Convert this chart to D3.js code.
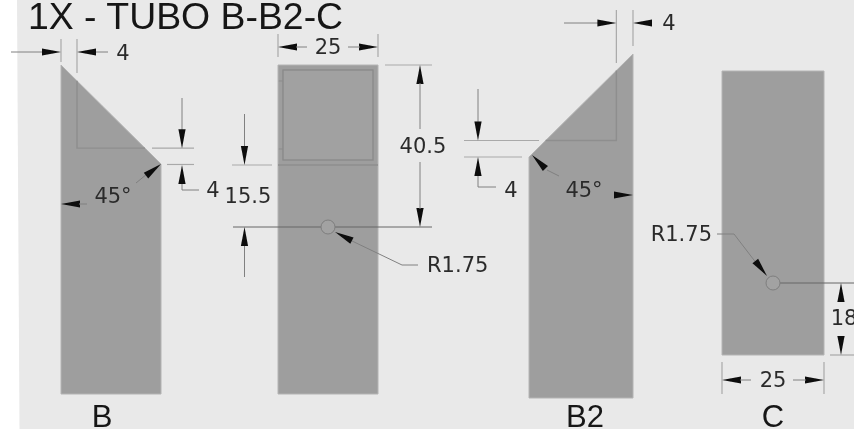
<!DOCTYPE html>
<html>
<head>
<meta charset="utf-8">
<script src="https://cdn.jsdelivr.net/npm/d3@7"></script>
<style>
html, body { margin: 0; padding: 0; background: #fff; overflow: hidden; }
text { font-family: "DejaVu Sans", sans-serif; font-size: 21px; fill: #2c2c2c; text-anchor: middle; dominant-baseline: central; }
text.big { font-family: "Liberation Sans", sans-serif; fill: #161616; dominant-baseline: auto; }
</style>
</head>
<body>
<div id="chart"></div>
<script>
// values, all in mm
const title = "1X - TUBO B-B2-C";
const viewNames = ["B", "", "B2", "C"];
const tubeWidth = [25, 25, 25, 25];
const tubeLength = [83.1, 82.25, 83.5, 71];
const cutDepth = 4;
const slotHeight = 25;
const slotInset = 1.25;
const holeFromTop = 40.5;
const holeStep = 15.5;
const holeFromEnd = 18;
const holeRadius = 1.75;
const angleLabel = "45°";

const width = 854;
const height = 429;

const svg = d3.select("#chart")
    .append("svg")
    .attr("width", width)
    .attr("height", height);

svg.append("defs").append("filter")
    .attr("id", "soft")
    .append("feGaussianBlur")
    .attr("stdDeviation", 0.5);

// sheet background does not quite start at the left edge
svg.append("path")
    .attr("d", d3.line()([[17, 0], [width, 0], [width, height], [19.5, height]]))
    .attr("fill", "#e9e9e9");

const g = svg.append("g").attr("filter", "url(#soft)");

// one pair of scales for each view, mm to pixels
const xRanges = [[61, 161], [278, 378], [529, 633], [722, 824]];
const yRanges = [[65, 394], [65, 394], [54, 398], [71, 355]];
const views = viewNames.map((name, i) => ({
    name: name,
    x: d3.scaleLinear([0, tubeWidth[i]], xRanges[i]),
    y: d3.scaleLinear([0, tubeLength[i]], yRanges[i])
}));
const [vB, vM, vB2, vC] = views;

const lineGen = d3.line();

function part(points) {
    g.append("path")
        .attr("d", lineGen(points) + "Z")
        .attr("fill", "#9e9e9e")
        .attr("stroke", "#b4b4b4")
        .attr("stroke-width", 1);
}

function seg(points, color, w) {
    g.append("path")
        .attr("d", lineGen(points))
        .attr("fill", "none")
        .attr("stroke", color)
        .attr("stroke-width", w || 1);
}
const ext = (points) => seg(points, "#a9a9a9", 1.2);
const dim = (points) => seg(points, "#808080", 1);
const inner = (points) => seg(points, "#8e8e8e", 1.4);

// long thin arrow head, tip at x,y, pointing along deg
function arrow(x, y, deg) {
    g.append("path")
        .attr("d", "M0,0L-19,-3.6L-19,3.6Z")
        .attr("transform", `translate(${x},${y}) rotate(${deg})`)
        .attr("fill", "#0c0c0c");
}

function label(s, x, y) {
    g.append("text").attr("x", x).attr("y", y).text(s);
}

function viewName(v, x) {
    g.append("text")
        .attr("class", "big")
        .attr("x", x)
        .attr("y", 427)
        .style("font-size", "31px")
        .text(v.name);
}

function hole(v, cx, cy) {
    g.append("circle")
        .attr("cx", v.x(cx))
        .attr("cy", v.y(cy))
        .attr("r", (v.y(holeRadius) - v.y(0)))
        .attr("fill", "#a2a2a2")
        .attr("stroke", "#7e7e7e")
        .attr("stroke-width", 1);
}

// ---- view B ----
{
    const v = vB, w = tubeWidth[0], L = tubeLength[0];
    part([[v.x(0), v.y(0)], [v.x(w), v.y(w)], [v.x(w), v.y(L)], [v.x(0), v.y(L)]]);
    inner([[v.x(cutDepth), v.y(cutDepth)], [v.x(cutDepth), v.y(w - cutDepth)], [v.x(w - cutDepth), v.y(w - cutDepth)]]);

    // width of the cut
    const a = v.x(0), b = v.x(cutDepth);
    ext([[a, 39], [a, 62]]);
    ext([[b, 39], [b, 73]]);
    dim([[11, 52], [a - 18, 52]]);
    arrow(a, 52, 0);
    dim([[b + 18, 52], [108, 52]]);
    arrow(b, 52, 180);
    label(cutDepth, 123, 53);

    // height of the cut
    const c = v.y(w - cutDepth), d = v.y(w);
    ext([[152, c], [194, c]]);
    ext([[167, d + 0.5], [194, d + 0.5]]);
    dim([[182, 98], [182, c - 18]]);
    arrow(182, c, 90);
    dim([[182, d + 18], [182, 190], [199, 190]]);
    arrow(182, d + 1, -90);
    label(cutDepth, 213, 190);

    // angle
    seg([[136, 183], [147, 174]], "#808080", 1);
    arrow(v.x(w), d, -38);
    arrow(v.x(0), 204, 180);
    dim([[v.x(0) + 18, 204], [87, 204]]);
    label(angleLabel, 113, 196);

    viewName(v, 102);
}

// ---- middle view ----
{
    const v = vM, w = tubeWidth[1], L = tubeLength[1];
    part([[v.x(0), v.y(0)], [v.x(w), v.y(0)], [v.x(w), v.y(L)], [v.x(0), v.y(L)]]);

    // top slot
    g.append("rect")
        .attr("x", v.x(slotInset))
        .attr("y", v.y(slotInset))
        .attr("width", v.x(w - slotInset) - v.x(slotInset))
        .attr("height", v.y(slotHeight - slotInset) - v.y(slotInset))
        .attr("fill", "#a1a1a1")
        .attr("stroke", "#898989")
        .attr("stroke-width", 1.3);
    inner([[v.x(0), v.y(slotHeight)], [v.x(w), v.y(slotHeight)]]);
    seg([[v.x(0.2), 81], [v.x(slotInset), 81]], "#8b8b8b", 1);
    seg([[v.x(0.2), 149], [v.x(slotInset), 149]], "#8b8b8b", 1);

    const cx = v.x(w / 2), hy = v.y(holeFromTop), r = v.y(holeRadius) - v.y(0);
    seg([[233, hy], [cx - r, hy]], "#666", 1);
    seg([[cx + r, hy], [432, hy]], "#666", 1);
    hole(v, w / 2, holeFromTop);

    // overall width
    const a = v.x(0), b = v.x(w);
    ext([[a, 34], [a, 57]]);
    ext([[b, 34], [b, 57]]);
    arrow(a, 47, 180);
    dim([[a + 18, 47], [307, 47]]);
    arrow(b, 47, 0);
    dim([[348, 47], [b - 18, 47]]);
    label(w, cx, 47);

    // hole from top
    const top = v.y(0);
    ext([[385, top], [432, top]]);
    arrow(420, top, -90);
    dim([[420, top + 18], [420, 129]]);
    arrow(420, hy, 90);
    dim([[420, 162], [420, hy - 18]]);
    label(holeFromTop, 423, 146);

    // hole from slot
    const s = v.y(holeFromTop - holeStep);
    ext([[232, s], [272, s]]);
    dim([[244.5, 114], [244.5, s - 18]]);
    arrow(244.5, s, 90);
    dim([[244.5, hy + 18], [244.5, 277]]);
    arrow(244.5, hy, -90);
    label(holeStep, 248, 196);

    // radius
    dim([[350, 240], [402, 265], [418, 265]]);
    arrow(335, 232, 207);
    g.append("text").attr("x", 427).attr("y", 265).style("text-anchor", "start").text("R" + holeRadius);
}

// ---- view B2 ----
{
    const v = vB2, w = tubeWidth[2], L = tubeLength[2];
    part([[v.x(w), v.y(0)], [v.x(w), v.y(L)], [v.x(0), v.y(L)], [v.x(0), v.y(w)]]);
    inner([[v.x(w - cutDepth), v.y(cutDepth)], [v.x(w - cutDepth), v.y(w - cutDepth)], [v.x(cutDepth), v.y(w - cutDepth)]]);

    // width of the cut
    const a = v.x(w - cutDepth), b = v.x(w);
    ext([[a, 10], [a, 63]]);
    ext([[b, 10], [b, 46]]);
    dim([[564, 23], [a - 18, 23]]);
    arrow(a, 23, 0);
    arrow(b, 23, 180);
    label(cutDepth, 669, 23);

    // height of the cut
    const c = v.y(w - cutDepth), d = v.y(w);
    ext([[464, c], [539, c]]);
    ext([[464, d], [522, d]]);
    dim([[478, 89], [478, c - 18]]);
    arrow(478, c, 90);
    dim([[478, d + 18], [478, 187], [496, 187]]);
    arrow(478, d, -90);
    label(cutDepth, 511, 190);

    // angle
    seg([[547, 170], [559, 176]], "#808080", 1);
    arrow(532, 155, 225);
    arrow(b, 195, 0);
    label(angleLabel, 584, 190);

    viewName(v, 585);
}

// ---- view C ----
{
    const v = vC, w = tubeWidth[3], L = tubeLength[3];
    part([[v.x(0), v.y(0)], [v.x(w), v.y(0)], [v.x(w), v.y(L)], [v.x(0), v.y(L)]]);

    const cx = v.x(w / 2), hy = v.y(L - holeFromEnd), bot = v.y(L), r = v.y(holeRadius) - v.y(0);
    seg([[cx + r, hy], [width, hy]], "#666", 1);
    hole(v, w / 2, L - holeFromEnd);

    // radius
    dim([[717, 234], [734, 234], [757, 264]]);
    arrow(767, 276, 52);
    g.append("text").attr("x", 712).attr("y", 234).style("text-anchor", "end").text("R" + holeRadius);

    // hole from end
    ext([[830, bot], [width, bot]]);
    arrow(841, hy, -90);
    arrow(841, bot, 90);
    label(holeFromEnd, 844, 318);

    // width
    const a = v.x(0), b = v.x(w);
    ext([[a, 362], [a, 394]]);
    ext([[b, 362], [b, 394]]);
    arrow(a, 380, 180);
    dim([[a + 18, 380], [751, 380]]);
    arrow(b, 380, 0);
    dim([[793, 380], [b - 18, 380]]);
    label(w, 773, 380);

    viewName(v, 773);
}

g.append("text")
    .attr("class", "big")
    .attr("x", 28)
    .attr("y", 29)
    .style("text-anchor", "start")
    .style("font-size", "37.4px")
    .text(title);
</script>
</body>
</html>
